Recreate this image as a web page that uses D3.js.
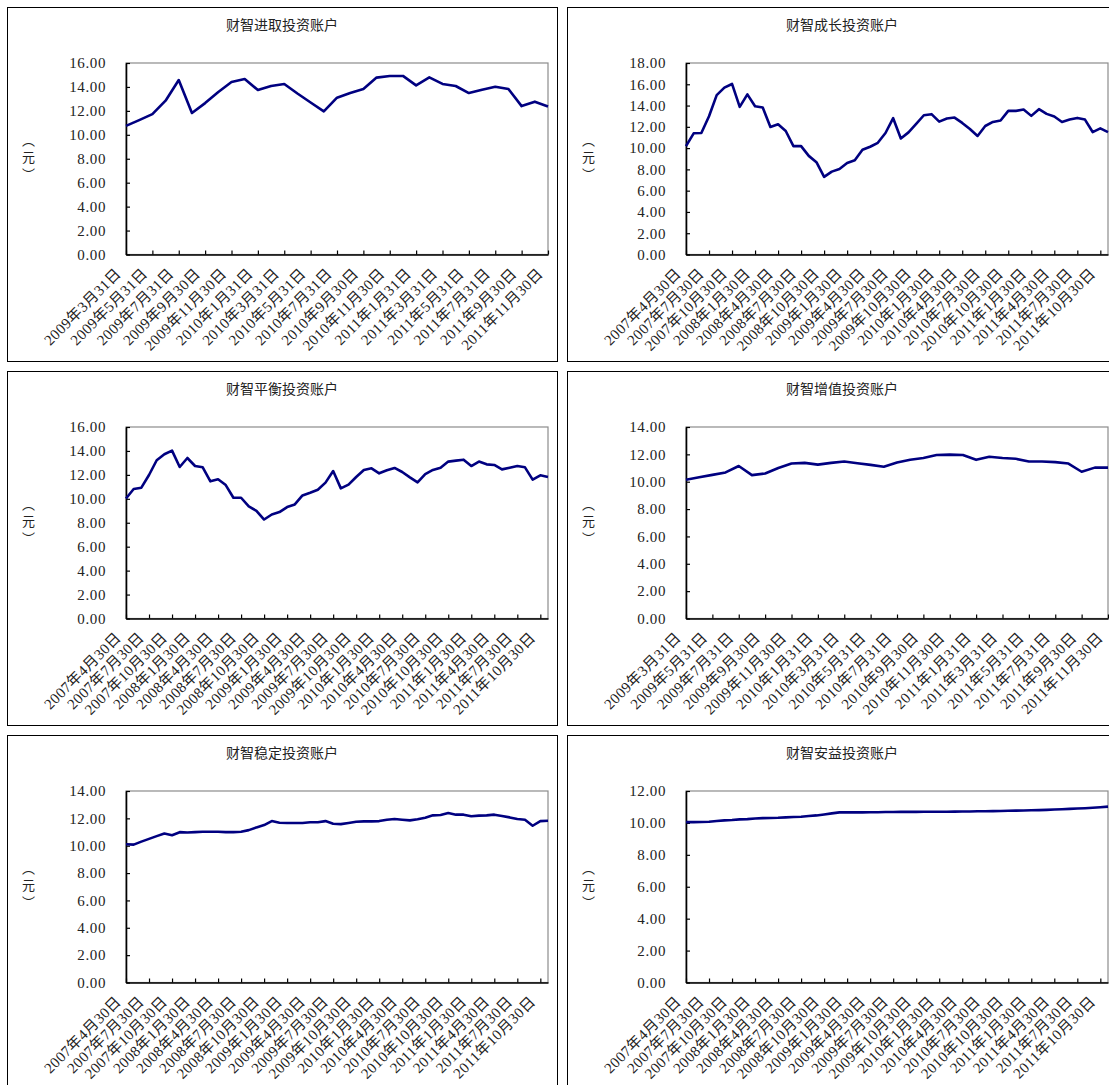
<!DOCTYPE html>
<html>
<head>
<meta charset="utf-8">
<script src="https://cdn.jsdelivr.net/npm/d3@7"></script>
<style>
    body { margin: 0; background: #fff; }
    svg { display: block; }
    .unit {
        writing-mode: vertical-rl;
        font-family: "Noto Sans CJK SC", sans-serif;
        font-size: 13px;
        line-height: 20px;
        letter-spacing: 4px;
        color: #222;
        margin: 0;
    }
</style>
</head>
<body>
<svg id="chart" width="1109" height="1085"></svg>
<script>
// monthly categories
const MONTHS_2009 = [
    '2009-03', '2009-04', '2009-05', '2009-06', '2009-07', '2009-08', '2009-09', '2009-10', '2009-11', '2009-12',
    '2010-01', '2010-02', '2010-03', '2010-04', '2010-05', '2010-06', '2010-07', '2010-08', '2010-09', '2010-10', '2010-11', '2010-12',
    '2011-01', '2011-02', '2011-03', '2011-04', '2011-05', '2011-06', '2011-07', '2011-08', '2011-09', '2011-10', '2011-11',
];
const MONTHS_2007 = [
    '2007-04', '2007-05', '2007-06', '2007-07', '2007-08', '2007-09', '2007-10', '2007-11', '2007-12',
    '2008-01', '2008-02', '2008-03', '2008-04', '2008-05', '2008-06', '2008-07', '2008-08', '2008-09', '2008-10', '2008-11', '2008-12',
    '2009-01', '2009-02', '2009-03', '2009-04', '2009-05', '2009-06', '2009-07', '2009-08', '2009-09', '2009-10', '2009-11', '2009-12',
    '2010-01', '2010-02', '2010-03', '2010-04', '2010-05', '2010-06', '2010-07', '2010-08', '2010-09', '2010-10', '2010-11', '2010-12',
    '2011-01', '2011-02', '2011-03', '2011-04', '2011-05', '2011-06', '2011-07', '2011-08', '2011-09', '2011-10', '2011-11',
];

// tick labels
const TICKS_2009 = [
    '2009年3月31日', '2009年5月31日', '2009年7月31日', '2009年9月30日', '2009年11月30日',
    '2010年1月31日', '2010年3月31日', '2010年5月31日', '2010年7月31日', '2010年9月30日', '2010年11月30日',
    '2011年1月31日', '2011年3月31日', '2011年5月31日', '2011年7月31日', '2011年9月30日', '2011年11月30日',
];
const TICKS_2007 = [
    '2007年4月30日', '2007年7月30日', '2007年10月30日',
    '2008年1月30日', '2008年4月30日', '2008年7月30日', '2008年10月30日',
    '2009年1月30日', '2009年4月30日', '2009年7月30日', '2009年10月30日',
    '2010年1月30日', '2010年4月30日', '2010年7月30日', '2010年10月30日',
    '2011年1月30日', '2011年4月30日', '2011年7月30日', '2011年10月30日',
];

// unit values (元)
const JINQU = [
    10.75, 11.23, 11.73, 12.85, 14.58, 11.82, 12.65, 13.58, 14.41, 14.66,
    13.74, 14.08, 14.25, 13.45, 12.70, 11.96, 13.10, 13.49, 13.83, 14.78,
    14.92, 14.92, 14.13, 14.80, 14.25, 14.08, 13.49, 13.77, 14.02, 13.83,
    12.40, 12.77, 12.37,
];
const CHENGZHANG = [
    10.19, 11.39, 11.42, 13.00, 14.98, 15.68, 16.03, 13.88, 15.05, 13.94,
    13.82, 11.99, 12.24, 11.61, 10.19, 10.19, 9.27, 8.68, 7.29, 7.79,
    8.04, 8.61, 8.86, 9.84, 10.13, 10.50, 11.42, 12.81, 10.91, 11.48,
    12.27, 13.09, 13.19, 12.49, 12.78, 12.87, 12.37, 11.80, 11.14, 12.08,
    12.46, 12.59, 13.50, 13.50, 13.63, 13.03, 13.66, 13.22, 12.97, 12.46,
    12.68, 12.84, 12.68, 11.51, 11.86, 11.51,
];
const PINGHENG = [
    10.03, 10.82, 10.93, 11.99, 13.22, 13.72, 14.03, 12.66, 13.41, 12.74,
    12.63, 11.46, 11.63, 11.15, 10.09, 10.09, 9.36, 9.00, 8.27, 8.69,
    8.89, 9.31, 9.53, 10.28, 10.51, 10.76, 11.35, 12.32, 10.87, 11.18,
    11.82, 12.41, 12.55, 12.13, 12.38, 12.58, 12.24, 11.79, 11.37, 12.07,
    12.41, 12.60, 13.11, 13.19, 13.27, 12.74, 13.11, 12.88, 12.83, 12.46,
    12.60, 12.74, 12.63, 11.60, 11.96, 11.82,
];
const ZENGZHI = [
    10.15, 10.33, 10.50, 10.68, 11.15, 10.48, 10.60, 11.00, 11.33, 11.38,
    11.25, 11.38, 11.48, 11.35, 11.23, 11.10, 11.40, 11.60, 11.73, 11.95,
    11.98, 11.95, 11.60, 11.83, 11.73, 11.68, 11.48, 11.48, 11.43, 11.33,
    10.73, 11.03, 11.03,
];
const WENDING = [
    10.11, 10.08, 10.30, 10.50, 10.70, 10.89, 10.77, 10.99, 10.97, 10.99,
    11.02, 11.02, 11.02, 10.99, 10.99, 11.02, 11.14, 11.34, 11.51, 11.80,
    11.68, 11.66, 11.66, 11.66, 11.71, 11.71, 11.80, 11.61, 11.58, 11.66,
    11.75, 11.78, 11.78, 11.80, 11.90, 11.95, 11.90, 11.85, 11.93, 12.05,
    12.22, 12.25, 12.39, 12.27, 12.27, 12.15, 12.20, 12.22, 12.27, 12.17,
    12.07, 11.95, 11.90, 11.46, 11.80, 11.83,
];
const ANYI = [
    10.05, 10.05, 10.06, 10.07, 10.12, 10.16, 10.18, 10.22, 10.24, 10.28,
    10.30, 10.31, 10.32, 10.35, 10.37, 10.39, 10.43, 10.47, 10.53, 10.60,
    10.66, 10.66, 10.66, 10.66, 10.67, 10.67, 10.68, 10.68, 10.69, 10.69,
    10.69, 10.70, 10.70, 10.70, 10.70, 10.71, 10.72, 10.72, 10.73, 10.73,
    10.74, 10.75, 10.76, 10.77, 10.78, 10.79, 10.80, 10.82, 10.84, 10.86,
    10.88, 10.90, 10.92, 10.95, 10.98, 11.02,
];

const PANELS = [
    { title: '财智进取投资账户', months: MONTHS_2009, ticks: TICKS_2009, values: JINQU, yMax: 16 },
    { title: '财智成长投资账户', months: MONTHS_2007, ticks: TICKS_2007, values: CHENGZHANG, yMax: 18 },
    { title: '财智平衡投资账户', months: MONTHS_2007, ticks: TICKS_2007, values: PINGHENG, yMax: 16 },
    { title: '财智增值投资账户', months: MONTHS_2009, ticks: TICKS_2009, values: ZENGZHI, yMax: 14 },
    { title: '财智稳定投资账户', months: MONTHS_2007, ticks: TICKS_2007, values: WENDING, yMax: 14 },
    { title: '财智安益投资账户', months: MONTHS_2007, ticks: TICKS_2007, values: ANYI, yMax: 12 },
];

const PANEL_W = 550;
const PANEL_H = 354;
const NUM_FONT = '"Liberation Serif", "Noto Sans CJK SC", serif';
const CJK_FONT = '"Noto Sans CJK SC", sans-serif';
const TEXT_COLOR = '#222';

const svg = d3.select('#chart');
svg.append('rect').attr('width', 1109).attr('height', 1085).attr('fill', '#fff');

// "2009年3月31日" -> "2009-03"
const labelToMonth = (label) => {
    const m = label.match(/(\d+)年(\d+)月/);
    return `${m[1]}-${m[2].padStart(2, '0')}`;
}

const drawPanel = (cfg, i) => {
    const x0 = 7 + (i % 2) * 560;
    const y0 = 7 + Math.floor(i / 2) * 364;
    const left = x0 + 119;
    const right = x0 + 541;
    const top = y0 + 56;
    const bottom = y0 + 247.5;

    const g = svg.append('g');

    g.append('rect')
        .attr('x', x0 + 0.5)
        .attr('y', y0 + 0.5)
        .attr('width', PANEL_W)
        .attr('height', PANEL_H)
        .attr('fill', '#fff')
        .attr('stroke', '#000')
        .attr('stroke-width', 1);

    g.append('text')
        .text(cfg.title)
        .attr('x', x0 + PANEL_W / 2)
        .attr('y', y0 + 23)
        .attr('text-anchor', 'middle')
        .style('font-family', CJK_FONT)
        .style('font-size', '14px')
        .attr('fill', TEXT_COLOR);

    // vertical unit label (html vertical writing keeps 元 upright)
    g.append('foreignObject')
        .attr('x', x0 + 11)
        .attr('y', y0 + 127)
        .attr('width', 20)
        .attr('height', 56)
        .append('xhtml:p')
        .attr('class', 'unit')
        .text('（元）');

    const x = d3.scalePoint()
        .domain(cfg.months)
        .range([left, right]);
    const y = d3.scaleLinear()
        .domain([0, cfg.yMax])
        .range([bottom, top]);

    // plot frame (top / right are grey)
    g.append('rect')
        .attr('x', left)
        .attr('y', top)
        .attr('width', right - left)
        .attr('height', bottom - top)
        .attr('fill', 'none')
        .attr('stroke', '#8c8c8c')
        .attr('stroke-width', 1.2);

    const yAxis = g.append('g')
        .attr('transform', `translate(${left},0)`)
        .call(d3.axisLeft(y)
            .tickValues(d3.range(0, cfg.yMax + 0.1, 2))
            .tickFormat(d3.format('.2f'))
            .tickSizeInner(-4)
            .tickSizeOuter(0)
            .tickPadding(20));
    yAxis.select('.domain').attr('stroke', '#000').attr('stroke-width', 1.6);
    yAxis.selectAll('line').attr('stroke', '#000').attr('stroke-width', 1.2);
    yAxis.selectAll('text')
        .style('font-family', NUM_FONT)
        .style('font-size', '15px')
        .style('letter-spacing', '0.6px')
        .attr('fill', TEXT_COLOR);

    const tickMonths = cfg.ticks.map(labelToMonth);
    const xAxis = g.append('g')
        .attr('transform', `translate(0,${bottom})`)
        .call(d3.axisBottom(x)
            .tickValues(tickMonths)
            .tickFormat('')
            .tickSizeInner(-4)
            .tickSizeOuter(0));
    xAxis.select('.domain').attr('stroke', '#000').attr('stroke-width', 1.6);
    xAxis.selectAll('line').attr('stroke', '#000').attr('stroke-width', 1.2);

    g.append('g')
        .selectAll('text')
        .data(cfg.ticks)
        .enter()
        .append('text')
        .text(d => d)
        .attr('text-anchor', 'end')
        .attr('transform', d => `translate(${x(labelToMonth(d)) - 4},${bottom + 20}) rotate(-45)`)
        .style('font-family', NUM_FONT)
        .style('font-size', '15px')
        .style('letter-spacing', '0.4px')
        .attr('fill', TEXT_COLOR);

    const line = d3.line()
        .x((d, k) => x(cfg.months[k]))
        .y(d => y(d));

    g.append('path')
        .datum(cfg.values)
        .attr('d', line)
        .attr('fill', 'none')
        .attr('stroke', '#000080')
        .attr('stroke-width', 2.6)
        .attr('stroke-linejoin', 'round');
}

PANELS.forEach(drawPanel);
</script>
</body>
</html>
